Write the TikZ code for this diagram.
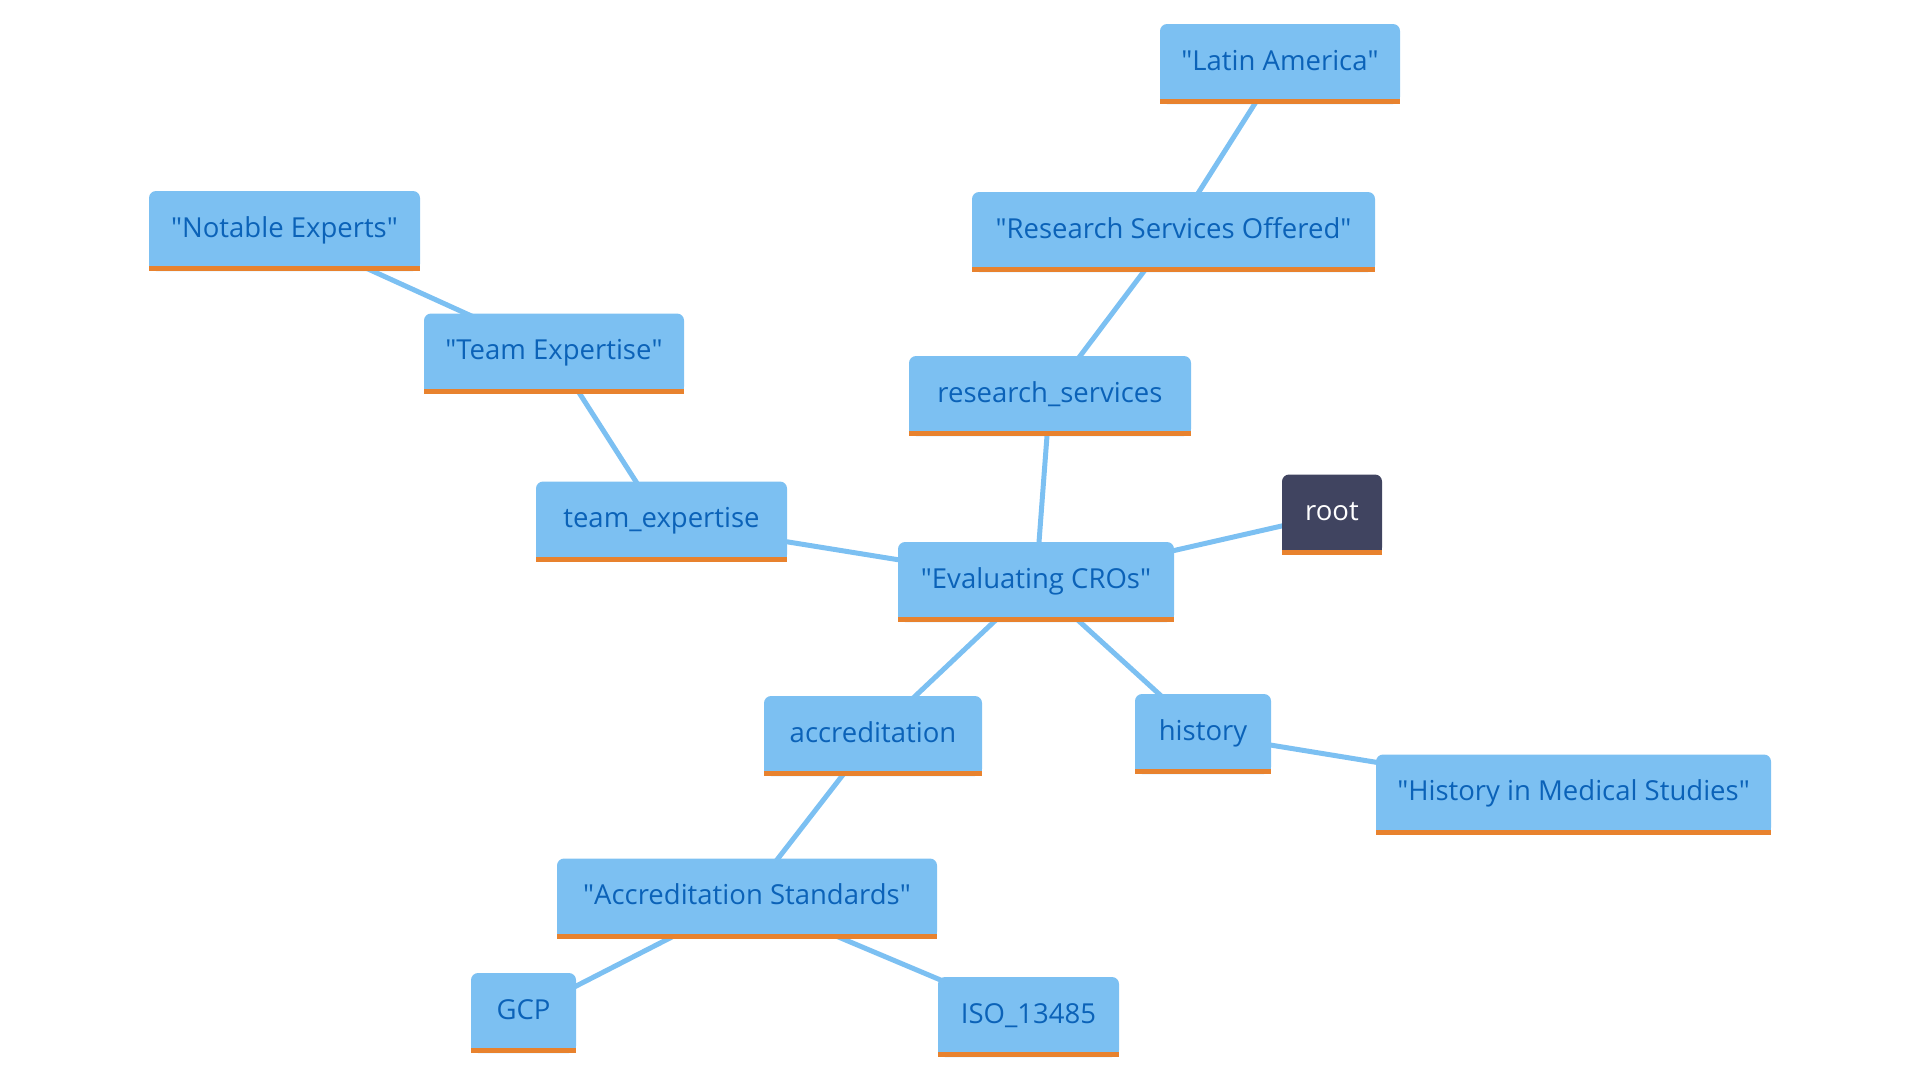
\documentclass[tikz,border=0pt]{standalone}
\usepackage{fontspec}
\setmainfont{Open Sans}
\usetikzlibrary{backgrounds}
\definecolor{boxblue}{HTML}{7CC0F2}
\definecolor{txtblue}{HTML}{0B62B8}
\definecolor{barorange}{HTML}{E8822E}
\definecolor{rootfill}{HTML}{404460}
\newcommand{\qq}{\textquotedbl}
\tikzset{
  box/.style={rectangle, rounded corners=7pt, fill=boxblue, text=txtblue, inner sep=0pt,
    minimum height=80pt, text height=18pt, text depth=6pt, font=\fontsize{27.5}{32}\selectfont},
  rootbox/.style={box, fill=rootfill, text=white},
  link/.style={draw=boxblue, line width=5pt}
}
\begin{document}
\begin{tikzpicture}[x=1pt,y=-1pt]
\useasboundingbox (0,0) rectangle (1920,1080);
\node[box, minimum width=240pt] (latin) at (1280,64) {\qq Latin America\qq};
\node[box, minimum width=403pt] (rso) at (1173.5,232) {\qq Research Services Offered\qq};
\node[box, minimum width=271pt] (notable) at (284.5,231) {\qq Notable Experts\qq};
\node[box, minimum width=260pt] (teamq) at (554,353.5) {\qq Team Expertise\qq};
\node[box, minimum width=282pt] (rs) at (1050,396) {research\_services};
\node[box, minimum width=251pt] (te) at (661.5,521.5) {team\_expertise};
\node[rootbox, minimum width=100pt] (root) at (1332,514.5) {root};
\node[box, minimum width=276pt] (eval) at (1036,582) {\qq Evaluating CROs\qq};
\node[box, minimum width=218pt] (acc) at (873,736) {accreditation};
\node[box, minimum width=136pt] (hist) at (1203,734) {history};
\node[box, minimum width=395pt] (hms) at (1573.5,794.5) {\qq History in Medical Studies\qq};
\node[box, minimum width=380pt] (accstd) at (747,898.5) {\qq Accreditation Standards\qq};
\node[box, minimum width=105pt] (gcp) at (523.5,1013) {GCP};
\node[box, minimum width=181pt] (iso) at (1028.5,1017) {ISO\_13485};
\foreach \n/\c in {latin/boxblue,rso/boxblue,notable/boxblue,teamq/boxblue,rs/boxblue,te/boxblue,root/rootfill,eval/boxblue,acc/boxblue,hist/boxblue,hms/boxblue,accstd/boxblue,gcp/boxblue,iso/boxblue}{
  \fill[\c] ([yshift=4pt]\n.south west) rectangle ([yshift=14pt]\n.south east);
  \fill[barorange] (\n.south west) rectangle ([yshift=5pt]\n.south east);
}
\begin{scope}[on background layer]
\draw[link] (latin.center) -- (rso.center);
\draw[link] (rso.center) -- (rs.center);
\draw[link] (rs.center) -- (eval.center);
\draw[link] (notable.center) -- (teamq.center);
\draw[link] (teamq.center) -- (te.center);
\draw[link] (te.center) -- (eval.center);
\draw[link] (root.center) -- (eval.center);
\draw[link] (eval.center) -- (acc.center);
\draw[link] (eval.center) -- (hist.center);
\draw[link] (hist.center) -- (hms.center);
\draw[link] (acc.center) -- (accstd.center);
\draw[link] (accstd.center) -- (gcp.center);
\draw[link] (accstd.center) -- (iso.center);
\end{scope}
\end{tikzpicture}
\end{document}
